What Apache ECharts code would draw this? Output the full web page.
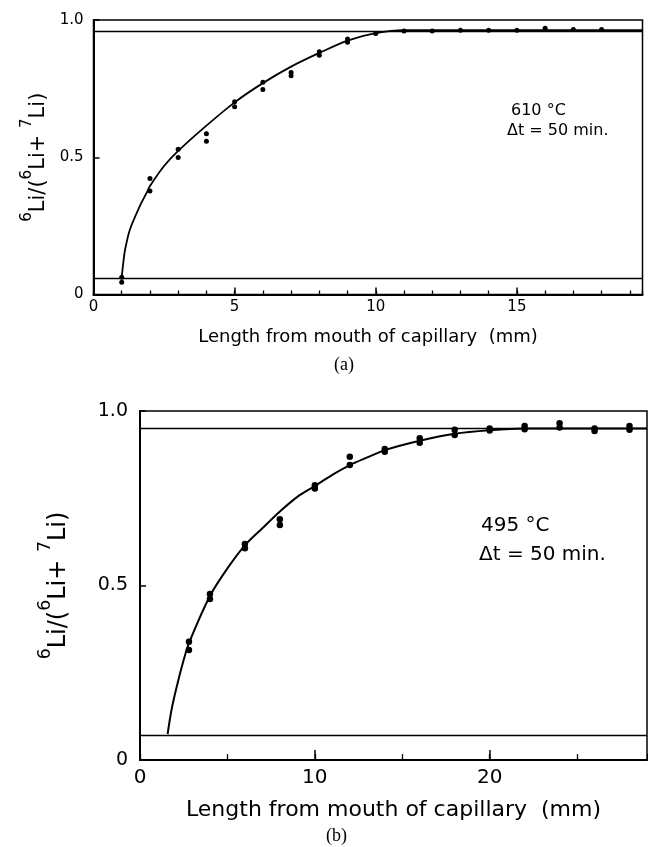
<!DOCTYPE html>
<html>
<head>
<meta charset="utf-8">
<script src="https://cdn.jsdelivr.net/npm/echarts@6/dist/echarts.min.js"></script>
<style>
  html, body { margin: 0; padding: 0; background: #fff; }
  #main { width: 648px; height: 847px; }
</style>
</head>
<body>
<div id="main"></div>
<script>
// (a) 610 °C — measured points
var xA = [1, 1, 2, 2, 3, 3, 4, 4, 5, 5, 6, 6, 7, 7, 8, 8, 9, 9, 10, 11, 12, 13, 14, 15, 16, 17, 18];
var yA = [0.063, 0.045, 0.423, 0.377, 0.529, 0.499, 0.586, 0.558, 0.702, 0.684, 0.773, 0.747, 0.809, 0.797,
  0.884, 0.872, 0.931, 0.919, 0.951, 0.96, 0.96, 0.963, 0.963, 0.963, 0.97, 0.965, 0.965];
// (a) fitted curve
var curveXA = [1.0, 1.06, 1.12, 1.29, 1.64, 1.88, 2.0, 2.5, 3, 4, 5, 6, 7, 8, 9, 10, 11, 12, 19.45];
var curveYA = [0.063, 0.12, 0.164, 0.237, 0.322, 0.37, 0.395, 0.468, 0.523, 0.615, 0.70, 0.77, 0.83, 0.88,
  0.925, 0.952, 0.963, 0.963, 0.963];
var levelsA = [0.963, 0.063];

// (b) 495 °C — measured points
var xB = [2.8, 2.8, 4, 4, 6, 6, 8, 8, 10, 10, 12, 12, 14, 14, 16, 16, 18, 18, 20, 20, 22, 22, 24, 24, 26, 26, 28, 28];
var yB = [0.339, 0.315, 0.476, 0.461, 0.619, 0.607, 0.690, 0.673, 0.787, 0.778, 0.869, 0.845, 0.891, 0.883,
  0.922, 0.909, 0.946, 0.931, 0.950, 0.944, 0.957, 0.948, 0.965, 0.953, 0.950, 0.943, 0.957, 0.946];
var curveXB = [1.58, 1.8, 2.1, 2.5, 2.8, 4, 5, 6, 7, 8, 9, 10, 11, 12, 13, 14, 16, 18, 20, 22, 24, 29];
var curveYB = [0.0745, 0.143, 0.21, 0.287, 0.335, 0.47, 0.549, 0.615, 0.664, 0.712, 0.754, 0.785, 0.817,
  0.845, 0.867, 0.888, 0.915, 0.935, 0.945, 0.95, 0.95, 0.95];
var levelsB = [0.95, 0.0745];

var yTitle = '{s|6}{t|Li/(}{s|6}{t|Li+ }{s|7}{t|Li)}';
var xTitle = 'Length from mouth of capillary  (mm)';
var FONT = 'DejaVu Sans';

function pairs(xs, ys) {
  return xs.map(function (x, i) { return [x, ys[i]]; });
}

function yAxisFor(grid, fs, gap, titleFs, titleGap) {
  return {
    type: 'value', gridIndex: grid, min: 0, max: 1, interval: 0.5,
    axisLine: { show: true, lineStyle: { color: '#000', width: 2 } },
    axisTick: { inside: true, length: 6, lineStyle: { color: '#000', width: 1.5 } },
    splitLine: { show: false },
    axisLabel: {
      color: '#000', fontSize: fs, fontFamily: FONT, margin: gap,
      formatter: function (v) { return v === 0 ? '0' : v.toFixed(1); }
    },
    name: yTitle, nameLocation: 'middle', nameRotate: 90, nameGap: titleGap,
    nameTextStyle: {
      rich: {
        t: { fontSize: titleFs, fontFamily: FONT, color: '#000', lineHeight: titleFs * 1.4, verticalAlign: 'bottom' },
        s: { fontSize: titleFs * 0.72, fontFamily: FONT, color: '#000', lineHeight: titleFs * 1.4, verticalAlign: 'top' }
      }
    }
  };
}

function xAxesFor(grid, max, minorInt, majorInt, labelInt, fs, margin, titleFs, nameGap, minorLen, majorLen) {
  return [
    {
      type: 'value', gridIndex: grid, position: 'bottom', min: 0, max: max, interval: majorInt,
      axisLine: { show: true, lineStyle: { color: '#000', width: 2 } },
      axisTick: { inside: true, length: majorLen, lineStyle: { color: '#000', width: 1.5 } },
      splitLine: { show: false },
      axisLabel: {
        color: '#000', fontSize: fs, fontFamily: FONT, margin: margin, showMaxLabel: false,
        formatter: function (v) { return v % labelInt === 0 ? String(v) : ''; }
      },
      name: xTitle, nameLocation: 'middle', nameGap: nameGap,
      nameTextStyle: { color: '#000', fontSize: titleFs, fontFamily: FONT }
    },
    {
      type: 'value', gridIndex: grid, position: 'bottom', min: 0, max: max, interval: minorInt,
      axisLine: { show: false },
      axisTick: { inside: true, length: minorLen, lineStyle: { color: '#000', width: 1.3 } },
      splitLine: { show: false },
      axisLabel: { show: false }
    }
  ];
}

function levelLines(vals) {
  return {
    silent: true, symbol: 'none', label: { show: false },
    lineStyle: { color: '#000', width: 1.4, type: 'solid' },
    data: vals.map(function (v) { return { yAxis: v }; })
  };
}

var chart = echarts.init(document.getElementById('main'));
var xa = xAxesFor(0, 19.45, 1, 5, 5, 15, 5, 18, 34, 4, 7);
var xb = xAxesFor(1, 29, 5, 10, 10, 20, 8, 22, 39, 6, 10);

var option = {
  animation: false,
  backgroundColor: '#fff',
  grid: [
    { left: 93.5, top: 20, width: 549, height: 274.5, show: true, borderColor: '#000', borderWidth: 1.5 },
    { left: 140, top: 411, width: 507, height: 349, show: true, borderColor: '#000', borderWidth: 1.5 }
  ],
  xAxis: [xa[0], xa[1], xb[0], xb[1]],
  yAxis: [yAxisFor(0, 15, 10, 21, 37), yAxisFor(1, 19, 12, 24, 69)],
  series: [
    {
      type: 'line', xAxisIndex: 0, yAxisIndex: 0, data: pairs(curveXA, curveYA),
      smooth: 0.3, showSymbol: false,
      lineStyle: { color: '#000', width: 1.8 },
      markLine: levelLines(levelsA)
    },
    {
      type: 'scatter', xAxisIndex: 0, yAxisIndex: 0, data: pairs(xA, yA),
      symbolSize: 5, itemStyle: { color: '#000', opacity: 1 }
    },
    {
      type: 'line', xAxisIndex: 2, yAxisIndex: 1, data: pairs(curveXB, curveYB),
      smooth: 0.3, showSymbol: false,
      lineStyle: { color: '#000', width: 2 },
      markLine: levelLines(levelsB)
    },
    {
      type: 'scatter', xAxisIndex: 2, yAxisIndex: 1, data: pairs(xB, yB),
      symbolSize: 6.5, itemStyle: { color: '#000', opacity: 1 }
    }
  ],
  graphic: [
    { type: 'text', left: 511, top: 103, style: { text: '610 °C', font: '16px "DejaVu Sans"', fill: '#000' } },
    { type: 'text', left: 507, top: 123, style: { text: 'Δt = 50 min.', font: '16px "DejaVu Sans"', fill: '#000' } },
    { type: 'text', left: 334, top: 356, style: { text: '(a)', font: '18px "Liberation Serif"', fill: '#000' } },
    { type: 'text', left: 481, top: 516, style: { text: '495 °C', font: '20px "DejaVu Sans"', fill: '#000' } },
    { type: 'text', left: 479, top: 545, style: { text: 'Δt = 50 min.', font: '20px "DejaVu Sans"', fill: '#000' } },
    { type: 'text', left: 326, top: 827, style: { text: '(b)', font: '18px "Liberation Serif"', fill: '#000' } }
  ]
};

chart.setOption(option);
</script>
</body>
</html>
